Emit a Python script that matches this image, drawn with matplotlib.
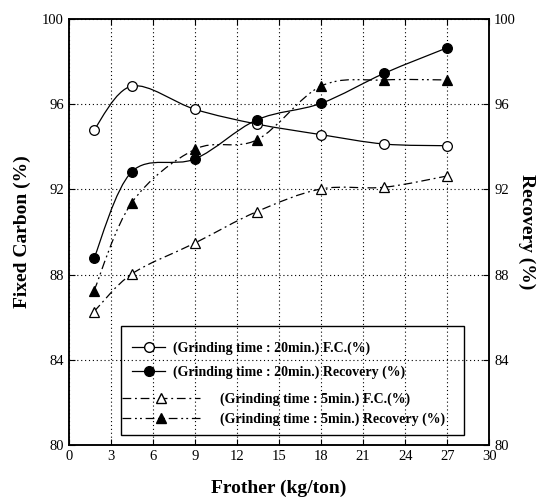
import numpy as np
import matplotlib as mpl
mpl.use('Agg')
import matplotlib.pyplot as plt
from matplotlib.path import Path
from matplotlib.patches import PathPatch, Rectangle
from matplotlib.lines import Line2D

plt.rcParams['font.family'] = ['Liberation Serif', 'DejaVu Serif']

# ── data ──────────────────────────────────────────────────────────────
frother = [1.8, 4.5, 9.0, 13.4, 18.0, 22.5, 27.0]          # kg/ton
fc_20min = [94.8, 96.85, 95.76, 95.07, 94.57, 94.13, 94.05]  # F.C. (%)
rec_20min = [88.77, 92.83, 93.43, 95.26, 96.04, 97.45, 98.65]  # Recovery (%)
fc_5min = [86.26, 88.03, 89.48, 90.95, 92.02, 92.10, 92.63]
rec_5min = [87.24, 91.38, 93.88, 94.32, 96.85, 97.14, 97.14]

x_ticks = list(range(0, 31, 3))
y_ticks = list(range(80, 101, 4))

DASH_DOT = (0, (7, 3, 1.5, 3))
DASH_DOT_DOT = (0, (7, 3, 1.5, 2.5, 1.5, 3))


def smooth_path(x, y):
    """Catmull-Rom curve through the points, as cubic Bezier segments."""
    pts = np.column_stack([x, y])
    ext = np.vstack([pts[0], pts, pts[-1]])
    verts = [pts[0]]
    codes = [Path.MOVETO]
    for i in range(len(pts) - 1):
        p0, p1, p2, p3 = ext[i], ext[i + 1], ext[i + 2], ext[i + 3]
        verts += [p1 + (p2 - p0) / 6, p2 - (p3 - p1) / 6, p2]
        codes += [Path.CURVE4] * 3
    return Path(verts, codes)


def draw_series(axis, x, y, marker, face, ls):
    axis.add_patch(PathPatch(smooth_path(x, y), fill=False, ec='k',
                             lw=0.9, ls=ls, zorder=3))
    axis.plot(x, y, ls='none', marker=marker, ms=7 if marker == 'o' else 6.5,
              mfc=face, mec='k', mew=0.9, zorder=4)


fig = plt.figure(figsize=(5.46, 5.01), dpi=100)
ax = fig.add_axes([0.126, 0.112, 0.770, 0.850])
ax2 = ax.twinx()

draw_series(ax, frother, fc_20min, 'o', 'white', '-')
draw_series(ax2, frother, rec_20min, 'o', 'black', '-')
draw_series(ax, frother, fc_5min, '^', 'white', DASH_DOT)
draw_series(ax2, frother, rec_5min, '^', 'black', DASH_DOT_DOT)

for a in (ax, ax2):
    a.set_xlim(0, 30)
    a.set_ylim(80, 100)
    a.set_yticks(y_ticks)
    a.tick_params(direction='in', length=4, width=0.8, labelsize=10.5)
    for sp in a.spines.values():
        sp.set_linewidth(1.1)
ax.set_xticks(x_ticks)
ax.tick_params(top=True, right=False)
ax.grid(True, ls=(0, (1, 2.5)), lw=0.8, color='k')

ax.set_xlabel('Frother (kg/ton)', fontsize=14, fontweight='bold', labelpad=12)
ax.set_ylabel('Fixed Carbon (%)', fontsize=14, fontweight='bold', labelpad=8)
ax2.set_ylabel('Recovery (%)', fontsize=14, fontweight='bold',
               rotation=270, labelpad=14)

# legend: two groups inside a single frame
ax2.add_patch(Rectangle((0.124, 0.023), 0.816, 0.256, transform=ax2.transAxes,
                        fill=False, ec='k', lw=1.0, zorder=5))
h20 = [Line2D([], [], color='k', lw=0.9, marker='o', ms=7, mfc='white', mec='k'),
       Line2D([], [], color='k', lw=0.9, marker='o', ms=7, mfc='black', mec='k')]
h5 = [Line2D([], [], color='k', lw=0.9, ls=DASH_DOT, marker='^', ms=6.5,
             mfc='white', mec='k'),
      Line2D([], [], color='k', lw=0.9, ls=DASH_DOT_DOT, marker='^', ms=6.5,
             mfc='black', mec='k')]
leg_font = dict(size=10, weight='bold')
leg1 = ax2.legend(h20, ['(Grinding time : 20min.) F.C.(%)',
                        '(Grinding time : 20min.) Recovery (%)'],
                  loc='upper left', bbox_to_anchor=(0.15, 0.242),
                  frameon=False, borderpad=0, borderaxespad=0,
                  handlelength=2.4, handletextpad=0.58, labelspacing=0.71,
                  prop=leg_font)
ax2.add_artist(leg1)
ax2.legend(h5, ['(Grinding time : 5min.) F.C.(%)',
                '(Grinding time : 5min.) Recovery (%)'],
           loc='upper left', bbox_to_anchor=(0.126, 0.124),
           frameon=False, borderpad=0, borderaxespad=0,
           handlelength=5.6, handletextpad=1.5, labelspacing=0.52,
           prop=leg_font)

fig.savefig('out.png', dpi=100)
